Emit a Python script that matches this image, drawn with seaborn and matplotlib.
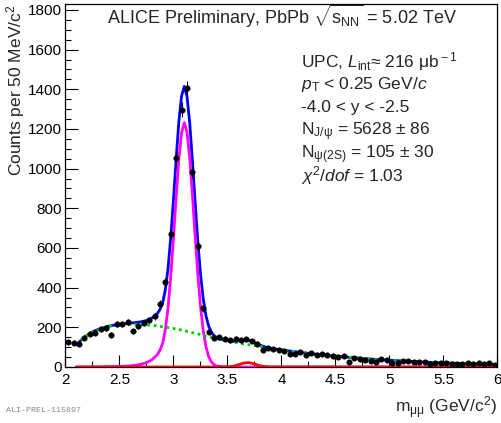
"""
ALICE UPC dimuon invariant mass spectrum (J/psi and psi(2S)) - PbPb 5.02 TeV
Re-drawn from the preliminary figure with seaborn / matplotlib.
"""

import numpy as np
import matplotlib
matplotlib.use('Agg')
import matplotlib.pyplot as plt
import seaborn as sns
from matplotlib.ticker import MultipleLocator, FuncFormatter

# ------------------------------
# 1. Data
# ------------------------------
bin_width = 0.05  # GeV/c^2
hist_start = 2.0

counts = [127, 123, 115, 148, 168, 173, 190, 197, 163, 215,
          215, 227, 180, 205, 222, 238, 255, 318, 427, 672,
          1052, 1298, 1405, 982, 610, 295, 178, 147, 150, 143,
          135, 143, 135, 140, 132, 118, 88, 95, 90, 85,
          82, 68, 65, 77, 60, 72, 60, 65, 58, 55,
          52, 55, 23, 43, 38, 35, 32, 27, 38, 35,
          22, 18, 30, 32, 23, 23, 23, 13, 18, 22,
          18, 15, 15, 15, 18, 15, 22, 15, 22, 10]

# fit curves, sampled by eye on a common mass grid
curve_mass = [2.10, 2.15, 2.20, 2.25, 2.30, 2.35, 2.40, 2.45, 2.50, 2.55,
              2.60, 2.65, 2.70, 2.75, 2.80, 2.85, 2.875, 2.90, 2.925, 2.95,
              2.975, 3.00, 3.025, 3.05, 3.075, 3.10, 3.125, 3.15, 3.175, 3.20,
              3.225, 3.25, 3.275, 3.30, 3.325, 3.35, 3.375, 3.40, 3.45, 3.50,
              3.55, 3.60, 3.65, 3.70, 3.75, 3.80, 3.85, 3.90, 3.95, 4.00,
              4.20, 4.40, 4.60, 4.80, 5.00, 5.20, 5.40, 5.60, 5.80, 6.00]

background = [112, 138, 160, 176, 188, 197, 204, 209, 212, 214,
              215, 215, 214, 212, 210, 207, 205, 203, 201, 199,
              196, 194, 191, 189, 186, 183, 180, 177, 173, 170,
              167, 163, 160, 156, 153, 150, 146, 143, 137, 132,
              126, 121, 116, 112, 108, 104, 99, 94, 90, 86,
              72, 60, 50, 41, 34, 28, 23, 19, 16, 13]

jpsi = [0, 0, 0, 1, 1, 1, 2, 2, 3, 4,
        6, 9, 14, 22, 36, 62, 85, 120, 190, 300,
        460, 650, 860, 1050, 1180, 1232, 1185, 1056, 871, 665,
        469, 307, 186, 104, 54, 26, 12, 5, 1, 0,
        0, 0, 0, 0, 0, 0, 0, 0, 0, 0,
        0, 0, 0, 0, 0, 0, 0, 0, 0, 0]

psi2s = [0, 0, 0, 0, 0, 0, 0, 0, 0, 0,
         0, 0, 0, 0, 0, 0, 0, 0, 0, 0,
         0, 0, 0, 0, 0, 0, 0, 0, 0, 0,
         0, 0, 0, 0, 0, 0, 0, 0, 0, 1,
         3, 11, 20, 22, 15, 6, 2, 0, 0, 0,
         0, 0, 0, 0, 0, 0, 0, 0, 0, 0]

total_fit = [112, 138, 160, 177, 189, 198, 206, 211, 215, 218,
             221, 224, 228, 234, 246, 269, 290, 323, 391, 499,
             656, 844, 1051, 1239, 1366, 1415, 1365, 1233, 1044, 835,
             636, 470, 346, 260, 207, 176, 158, 148, 138, 133,
             129, 132, 136, 134, 123, 110, 101, 94, 90, 86,
             72, 60, 50, 41, 34, 28, 23, 19, 16, 13]

info_lines = [
    r"UPC, $\mathit{L}_{\rm int}$≈ 216 μb$^{\rm -1}$",
    r"$\mathit{p}_{\rm T}$ < 0.25 GeV/$\mathit{c}$",
    r"-4.0 < y < -2.5",
    r"N$_{\rm J/ψ}$ = 5628 ± 86",
    r"N$_{\rm ψ(2S)}$ = 105 ± 30",
    r"$\mathit{χ}^{2}$/$\mathit{dof}$ = 1.03",
]

# ------------------------------
# 2. Style
# ------------------------------
sns.set_style('ticks')
plt.rcParams['font.family'] = ['Liberation Sans', 'DejaVu Sans']
plt.rcParams['mathtext.fontset'] = 'custom'
plt.rcParams['mathtext.rm'] = 'Liberation Sans'
plt.rcParams['mathtext.it'] = 'Liberation Sans:italic'
plt.rcParams['mathtext.bf'] = 'Liberation Sans:bold'

mass = hist_start + bin_width * (np.arange(len(counts)) + 0.5)
counts = np.array(counts, dtype=float)
errors = np.sqrt(counts)  # Poisson errors

fig = plt.figure(figsize=(5.01, 4.23), dpi=100)
ax = fig.add_axes([0.1307, 0.1324, 0.8623, 0.8581])

# ------------------------------
# 3. Fit components + data
# ------------------------------
sns.lineplot(x=curve_mass, y=total_fit, color='#0000ff', lw=2.0, ax=ax, zorder=3)
sns.lineplot(x=curve_mass, y=jpsi, color='#ff00ff', lw=2.0, ax=ax, zorder=3)
sns.lineplot(x=curve_mass, y=psi2s, color='#ff0000', lw=2.0, ax=ax, zorder=3)
sns.lineplot(x=curve_mass, y=background, color='#00cc00', lw=2.0,
             linestyle=(0, (1, 1.3)), ax=ax, zorder=4)

ax.errorbar(mass, counts, yerr=errors, fmt='none', ecolor='black',
            elinewidth=0.8, zorder=5)
sns.scatterplot(x=mass, y=counts, color='black', s=16, edgecolor='black',
                linewidth=0.3, ax=ax, zorder=6)

# ------------------------------
# 4. Axes cosmetics (ROOT-like)
# ------------------------------
ax.set_xlim(2, 6)
ax.set_ylim(0, 1830)
ax.xaxis.set_major_locator(MultipleLocator(0.5))
ax.xaxis.set_minor_locator(MultipleLocator(0.25))
ax.yaxis.set_major_locator(MultipleLocator(200))
ax.yaxis.set_minor_locator(MultipleLocator(50))
ax.xaxis.set_major_formatter(FuncFormatter(lambda v, p: f'{v:g}'))
ax.tick_params(which='both', direction='in', top=False, right=False,
               width=0.8, labelsize=11, colors='black')
ax.tick_params(which='major', length=9)
ax.tick_params(which='minor', length=4.5)
ax.tick_params(axis='x', pad=4)
ax.tick_params(axis='y', pad=2.5)
for side in ax.spines.values():
    side.set_linewidth(0.9)
    side.set_color('black')
ax.set_xlabel('')
ax.set_ylabel('')

fig.text(0.031, 0.99, r"Counts per 50 MeV/c$^2$", rotation=90,
         ha='center', va='top', fontsize=12.5)
fig.text(0.993, 0.024, r"m$_{\rm \mu\mu}$ (GeV/c$^{2}$)", ha='right',
         va='baseline', fontsize=12.5)
fig.text(0.012, 0.026, 'ALI-PREL-115897', family='Liberation Mono',
         fontsize=6, color='#888888', ha='left', va='baseline')

ax.text(0.096, 0.945, r"ALICE Preliminary, PbPb $\sqrt{\rm s_{NN}}$ = 5.02 TeV",
        transform=ax.transAxes, fontsize=13, ha='left', va='baseline')

line_y = [0.826, 0.766, 0.702, 0.639, 0.576, 0.510]
for txt, yy in zip(info_lines, line_y):
    ax.text(0.545, yy, txt, transform=ax.transAxes, fontsize=12.5,
            ha='left', va='baseline')

fig.savefig('out.png', dpi=100)
